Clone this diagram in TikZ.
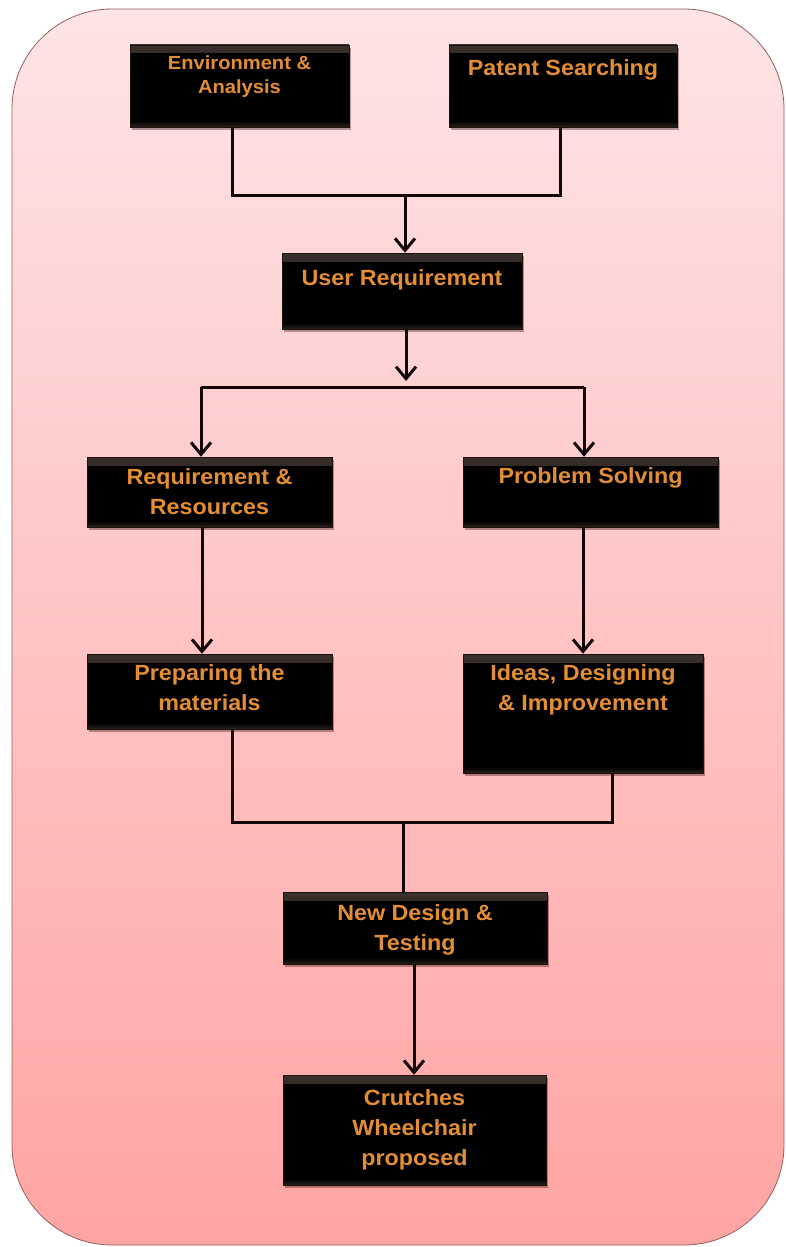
\documentclass[tikz,border=0pt]{standalone}
\usepackage{fontspec}
\newfontfamily\boxfont{Liberation Sans}[FakeStretch=1.06]
\usetikzlibrary{arrows.meta,shadows}
\definecolor{bgtop}{RGB}{254,228,229}
\definecolor{bgbot}{RGB}{255,164,164}
\definecolor{bgedge}{RGB}{150,95,95}
\definecolor{txtorange}{RGB}{228,142,52}
\definecolor{bevel}{RGB}{58,48,44}
\definecolor{linec}{RGB}{18,6,6}
\tikzset{
  stepbox/.style={draw=black!85!brown, line width=0.5pt, fill=black,
    drop shadow={shadow xshift=2pt, shadow yshift=-3pt, opacity=.35, fill=black!80!red},
    path picture={
      \shade[top color=bevel, bottom color=black]
        (path picture bounding box.north west) rectangle ([yshift=-8pt]path picture bounding box.north east);
      \shade[top color=black, bottom color=bevel!70!black]
        ([yshift=6pt]path picture bounding box.south west) rectangle (path picture bounding box.south east);
    }},
  boxtext/.style={text=txtorange, align=center, inner sep=0pt, anchor=north,
    font=\boxfont\bfseries\fontsize{22}{30}\selectfont},
  smalltext/.style={boxtext, font=\boxfont\bfseries\fontsize{19}{24}\selectfont},
  conn/.style={draw=linec, line width=3pt, line join=miter},
  arr/.style={conn, -{Straight Barb[length=12pt,width=20pt]}}
}
\begin{document}
\begin{tikzpicture}[x=1pt,y=-1pt]
\useasboundingbox (0,0) rectangle (786,1247);
\fill[white] (0,0) rectangle (786,1247);
\draw[bgedge, line width=0.8pt, top color=bgtop, bottom color=bgbot, rounded corners=100pt]
  (12,9) rectangle (784,1245);

% boxes
\node[stepbox, minimum width=219pt, minimum height=82pt] (env)   at (239.5,86) {};
\node[stepbox, minimum width=228pt, minimum height=82pt] (pat)   at (563,86) {};
\node[stepbox, minimum width=240pt, minimum height=76pt] (ureq)  at (402,291) {};
\node[stepbox, minimum width=245pt, minimum height=70pt] (rr)    at (209.5,492) {};
\node[stepbox, minimum width=255pt, minimum height=70pt] (ps)    at (590.5,492) {};
\node[stepbox, minimum width=245pt, minimum height=75pt] (prep)  at (209.5,691.5) {};
\node[stepbox, minimum width=240pt, minimum height=119pt] (ideas) at (583,713.5) {};
\node[stepbox, minimum width=264pt, minimum height=72pt] (nd)    at (415,928) {};
\node[stepbox, minimum width=263pt, minimum height=110pt] (cr)   at (414.5,1130) {};

% texts
\node[smalltext] (tenv)   at ([yshift=-11pt]env.north)   {Environment \&\\Analysis};
\node[boxtext]   (tpat)   at ([yshift=-15pt]pat.north)   {Patent Searching};
\node[boxtext]   (tureq)  at ([yshift=-17pt]ureq.north)  {User Requirement};
\node[boxtext]   (trr)    at ([yshift=-12pt]rr.north)    {Requirement \&\\Resources};
\node[boxtext]   (tps)    at ([yshift=-11pt]ps.north)    {Problem Solving};
\node[boxtext]   (tprep)  at ([yshift=-11pt]prep.north)  {Preparing the\\materials};
\node[boxtext]   (tideas) at ([yshift=-11pt]ideas.north) {Ideas, Designing\\\& Improvement};
\node[boxtext]   (tnd)    at ([yshift=-13pt]nd.north)    {New Design \&\\Testing};
\node[boxtext]   (tcr)    at ([yshift=-15pt]cr.north)    {Crutches\\Wheelchair\\proposed};

% helper coordinates
\coordinate (eL) at (232,0);
\coordinate (pS) at (560,0);
\coordinate (j1) at (405,195);
\coordinate (j2) at (406,387);
\coordinate (j2t) at (406,381);
\coordinate (bL) at (201,387);
\coordinate (bR) at (584,387);
\coordinate (cL) at (202,0);
\coordinate (cR) at (583,0);
\coordinate (pL) at (232,0);
\coordinate (pR) at (612,0);
\coordinate (j3) at (403,822);
\coordinate (nL) at (414,0);

% connectors
\draw[conn] (env.south -| eL) -- (eL |- j1) -- (pS |- j1) -- (pat.south -| pS);
\draw[arr]  (j1) -- (j1 |- ureq.north);
\draw[arr]  (ureq.south -| j2) -- (j2t);
\draw[conn] (bL) -- (bR);
\draw[arr]  (bL) -- (bL |- rr.north);
\draw[arr]  (bR) -- (bR |- ps.north);
\draw[arr]  (rr.south -| cL) -- (prep.north -| cL);
\draw[arr]  (ps.south -| cR) -- (ideas.north -| cR);
\draw[conn] (prep.south -| pL) -- (pL |- j3) -- (pR |- j3) -- (ideas.south -| pR);
\draw[conn] (j3) -- (j3 |- nd.north);
\draw[arr]  (nd.south -| nL) -- (cr.north -| nL);
\end{tikzpicture}
\end{document}
